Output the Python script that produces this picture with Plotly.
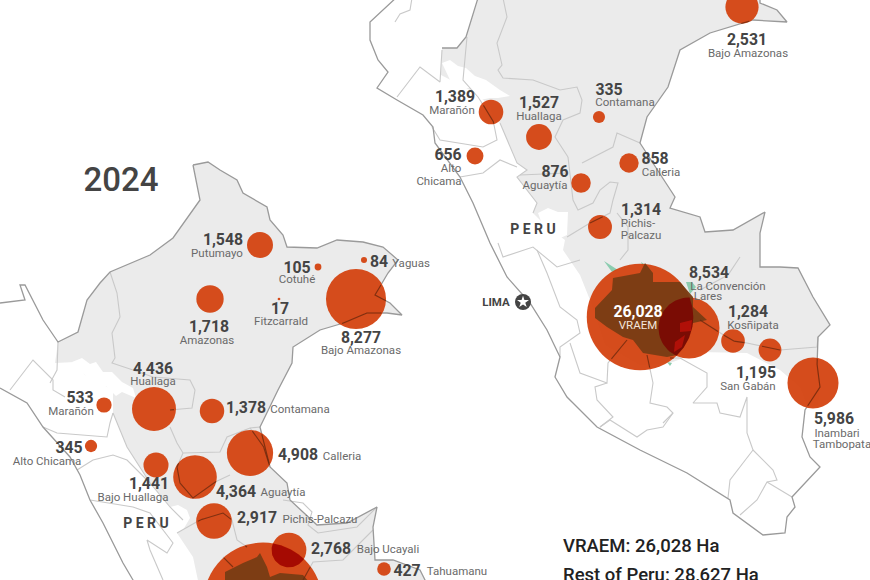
import numpy as np
import plotly.graph_objects as go

# ---------- data ----------
left_names = ["Putumayo","Cotuhé","Yaguas","Amazonas","Fitzcarrald","Bajo Amazonas","Huallaga","Marañón","Contamana","Alto Chicama","Calleria","Bajo Huallaga","Aguaytía","Pichis-Palcazu","Bajo Ucayali","Tahuamanu","VRAEM"]
left_values = [1548,105,84,1718,17,8277,4436,533,1378,345,4908,1441,4364,2917,2768,427,32400]
left_x = [260,318,364,210,279,356,154,104,212,91,250,156,195,214,289,384,263]
left_y = [245,267,260,299,299,299,409,405,411,446,453,465,477,521,550,569,602]

right_names = ["Bajo Amazonas","Marañón","Huallaga","Contamana","Alto Chicama","Calleria","Aguaytía","Pichis-Palcazu","VRAEM","La Convención Lares","Kosñipata","San Gabán","Inambari Tambopata"]
right_values = [2531,1389,1527,335,656,858,876,1314,26028,8534,1284,1195,5986]
right_x = [742,491,539,599,475,629,581,600,640,689,733,770,813]
right_y = [7,112,137,117,156,163,183,227,317,328,341,350,383]

num_text = ["1,548","105","84","1,718","17","8,277","4,436","533","1,378","345","4,908","1,441","4,364","2,917","2,768","427",
            "2,531","1,389","1,527","335","656","858","876","1,314","8,534","1,284","1,195","5,986"]
num_x = [223,297,379,209,280,361,153,80,246,69,298,149,236,257,331,407,
         747,455,539,609,448,655,555,641,709,748,756,834]
num_y = [241,269,263,328,310,339,370,399,409,449,456,485,493,519,550,572,
         41,98,104,91,156,160,173,211,274,313,374,420]

name_text = ["Putumayo","Cotuhé","Yaguas","Amazonas","Fitzcarrald","Bajo Amazonas","Huallaga","Marañón","Contamana","Alto Chicama","Calleria","Bajo Huallaga","Aguaytía","Pichis-Palcazu","Bajo Ucayali","Tahuamanu",
             "Bajo Amazonas","Marañón","Huallaga","Contamana","Alto","Chicama","Calleria","Aguaytía","Pichis-","Palcazu","La Convención","Lares","Kosñipata","San Gabán","Inambari","Tambopata"]
name_x = [217,297,411,207,281,361,153,71,300,47,342,133,283,320,388,457,
          748,452,539,625,451,439,661,545,638,641,728,708,753,748,837,842]
name_y = [254,280,264,341,322,351,382,412,410,462,457,498,493,520,550,572,
          54,111,117,103,169,182,173,186,224,236,287,297,326,387,434,445]

left_land = [(193,165),(208,162),(220,170),(237,180),(243,193),(267,207),(270,220),(283,235),(287,247),(317,248),(337,240),(363,242),(383,247),(398,260),(388,273),(375,295),(390,303),(402,315),(387,313),(367,313),(347,322),(320,330),(293,347),(292,363),(278,390),(267,413),(260,427),(270,467),(287,483),(290,500),(317,525),(347,523),(377,507),(373,527),(375,560),(393,560),(420,570),(430,590),
             (200,590),(193,557),(177,533),(183,520),(170,507),(150,483),(127,447),(113,413),(113,390),(85,375),(75,362),(55,363),(58,342),(78,332),(87,300),(100,283),(110,272),(150,255),(173,238),(200,200)]
right_land = [(478,0),(466,37),(457,48),(442,48),(441,75),(470,90),(490,105),(493,120),(500,123),(517,163),(527,170),(517,177),(537,203),(533,213),(545,225),(565,240),(563,250),(580,275),(590,300),(605,345),(640,365),(670,363),(700,352),(747,353),(780,370),(800,387),(808,408),(818,405),(820,387),(817,367),(818,337),(830,325),(813,297),(798,268),(780,267),(760,267),(760,233),(765,212),(733,230),(705,232),(700,217),(670,208),(675,197),(662,177),(640,143),(647,117),(668,87),(680,50),(710,33),(753,20),(787,22),(777,10),(760,3),(760,0)]
andes_patches = [
    [(72,362),(82,358),(90,364),(96,362),(103,372),(112,372),(122,382),(133,388),(136,398),(122,392),(116,396),(106,386),(96,386),(86,376)],
    [(170,507),(178,505),(187,510),(190,518),(183,530),(177,533)],
    [(442,63),(450,60),(458,66),(466,68),(475,76),(486,80),(500,90),(510,96),(498,98),(490,98),(480,100),(470,88),(458,88),(450,80)],
    [(538,213),(548,208),(558,212),(568,212),(567,235),(556,240),(550,247)],
]
border_lines = [
    # left map
    [(193,165),(208,162),(220,170),(237,180),(243,193),(267,207),(270,220),(283,235),(287,247),(317,248),(337,240),(363,242),(383,247),(398,260),(388,273),(375,295),(390,303),(402,315),(387,313),(367,313),(347,322),(320,330),(293,347),(292,363),(278,390),(267,413),(260,427),(270,467),(287,483),(290,500),(317,525),(347,523),(377,507),(373,527),(375,560),(393,560),(420,570),(430,590)],
    [(193,165),(200,200),(173,238),(150,255),(110,272),(100,283),(87,300),(78,332),(58,342),(43,320),(25,285),(20,285),(25,300),(0,303)],
    [(0,388),(27,403),(43,427),(70,457),(80,475),(90,500),(103,523),(123,563),(133,580),(138,590)],
    # right map
    [(398,-4),(370,22),(370,40),(378,60),(388,72),(377,88),(397,100),(423,115),(433,127),(435,143),(460,177),(473,203),(490,243),(507,277),(530,303),(547,330),(560,357),(555,377),(567,397),(597,427),(640,450),(687,473),(730,500),(733,513),(763,535),(785,533),(787,517),(795,507),(792,497),(820,467),(810,457),(802,437),(805,410),(820,387),(817,367),(818,337),(830,325),(813,297),(798,268),(780,267),(760,267),(760,233),(765,212),(733,230),(705,232),(700,217),(670,208),(675,197),(662,177),(640,143),(647,117),(668,87),(680,50),(710,33),(753,20),(787,22),(777,10),(760,3),(760,-2)],
    [(478,-2),(466,37),(457,48),(442,48)],
]
inner_lines = [
    [(110,272),(117,293),(120,317),(112,333),(115,358),(112,363),(133,370),(153,377),(190,380),(195,390),(192,408),(170,410)],
    [(170,427),(177,443),(183,453),(220,452),(227,437),(250,428),(260,427)],
    [(250,428),(263,445),(270,467)],
    [(183,453),(177,467),(180,483),(193,498),(213,483),(230,475)],
    [(177,533),(200,520),(223,513),(232,520),(237,540),(247,547)],
    [(283,500),(303,503),(312,512),(308,525),(318,533),(357,527),(377,507)],
    [(373,530),(343,560),(313,562),(303,580)],
    [(223,557),(233,567)],
    [(10,390),(33,360),(53,380),(53,390),(65,397)],
    [(43,427),(57,433),(107,437),(110,423),(113,413)],
    [(77,470),(93,460),(113,455),(127,460),(150,483)],
    [(58,342),(57,370),(50,383)],
    [(90,500),(110,503),(133,507),(150,513),(173,543),(167,553),(147,540),(150,550),(163,580)],
    [(113,413),(127,447),(150,483),(170,507),(183,520)],
    [(412,-2),(410,10),(400,14),(395,22)],
    [(503,-2),(507,17),(497,43),(502,65),(498,70),(503,78),(533,80),(560,90),(577,87),(582,100),(580,113),(563,120),(555,137),(563,150),(568,157)],
    [(568,157),(573,200),(578,210),(593,203),(600,190),(610,182),(618,183),(613,200),(610,213),(590,223),(567,237)],
    [(520,175),(567,173)],
    [(582,163),(613,147),(617,133),(640,143)],
    [(617,213),(628,227),(628,250),(620,260)],
    [(397,97),(420,67),(440,82),(442,50)],
    [(467,37),(463,80),(478,97),(493,120),(497,140),(483,147),(440,140),(432,127)],
    [(500,123),(517,163),(527,170),(517,177),(537,203),(533,213)],
    [(460,177),(483,173),(500,160),(517,167)],
    [(498,243),(503,257),(533,247),(557,267),(580,260)],
    [(537,250),(547,273),(560,307),(577,320),(580,333),(560,347),(560,357)],
    [(570,343),(580,373),(607,383),(608,363),(627,340)],
    [(607,383),(595,387),(597,400),(613,417),(600,427)],
    [(647,355),(653,383),(650,403),(667,407),(673,413),(663,423)],
    [(600,427),(610,420),(637,437),(647,430),(663,427),(673,413)],
    [(670,358),(680,358),(707,373),(707,387),(693,403),(717,403),(720,413),(740,417),(747,397),(747,433),(753,450),(740,467),(730,480),(728,498)],
    [(753,450),(773,470),(777,480),(767,482),(757,500),(740,515)],
    [(767,482),(792,497)],
    [(747,343),(780,350),(817,347),(818,337)],
    [(700,320),(733,341),(747,343)],
    [(740,257),(728,275),(700,290)],
]
vraem_right = [(595,308),(612,290),(613,278),(640,273),(645,263),(653,273),(653,282),(680,282),(693,297),(693,307),(707,320),(693,323),(677,355),(667,357),(643,353),(633,340),(623,337),(607,327),(595,318)]
vraem_left = [(225,590),(225,572),(243,563),(257,557),(260,553),(267,567),(270,577),(280,573),(303,575),(316,590)]
overlap_spots = [[(680,323),(692,320),(691,331),(680,332)],[(675,342),(685,335),(682,347),(674,352)]]
teal_patches = [[(604,261),(618,270),(612,272)],[(686,282),(692,282),(696,287),(690,294)],[(641,262),(650,268),(644,270)],[(667,362),(672,363),(670,366)]]

total_text = ["VRAEM: 26,028 Ha","Rest of Peru: 28,627 Ha"]
total_x = [563,563]
total_y = [547,576]

# ---------- styles ----------
FONT = "Roboto"
RED = "rgba(210,62,10,0.92)"
LAND = "#ebebeb"
SCALE = 0.66
PAGE_H = 680  # taller than the window, so bubbles centred below the fold still draw


def xy(points):
    return [p[0] for p in points], [p[1] for p in points]


def poly(points, color, name):
    x, y = xy(list(points) + [points[0]])
    return go.Scatter(x=x, y=y, mode="lines", fill="toself", fillcolor=color,
                      line=dict(width=0, color=color), hoverinfo="skip", name=name)


def path(lines, color, width, name):
    xs, ys = [], []
    for ln in lines:
        x, y = xy(ln)
        xs += x + [None]
        ys += y + [None]
    return go.Scatter(x=xs, y=ys, mode="lines", line=dict(color=color, width=width),
                      hoverinfo="skip", name=name)


def lens(x0, y0, r0, x1, y1, r1):
    """Outline of the overlap of two circles, from the bubbles' own values."""
    d = np.hypot(x1 - x0, y1 - y0)
    base = np.arctan2(y1 - y0, x1 - x0)
    a0 = np.arccos((d * d + r0 * r0 - r1 * r1) / (2 * d * r0))
    a1 = np.arccos((d * d + r1 * r1 - r0 * r0) / (2 * d * r1))
    t0 = np.linspace(base - a0, base + a0, 40)
    t1 = np.linspace(base + np.pi - a1, base + np.pi + a1, 40)
    return list(zip(x0 + r0 * np.cos(t0), y0 + r0 * np.sin(t0))) + \
        list(zip(x1 + r1 * np.cos(t1), y1 + r1 * np.sin(t1)))


def radius(v):
    return SCALE * np.sqrt(v) / 2


def lines_in_circles(lines, cx, cy, r):
    xs, ys = [], []
    for ln in lines:
        for (a, b), (c, d) in zip(ln[:-1], ln[1:]):
            for t in np.linspace(0, 1, 12):
                px, py = a + (c - a) * t, b + (d - b) * t
                if np.any(np.hypot(cx - px, cy - py) < r):
                    xs.append(px); ys.append(py)
                else:
                    xs.append(None); ys.append(None)
        xs.append(None); ys.append(None)
    return xs, ys


fig = go.Figure()
fig.add_trace(poly(left_land, LAND, "land"))
fig.add_trace(poly(right_land, LAND, "land"))
for p in andes_patches:
    fig.add_trace(poly(p, "#ffffff", "andes"))
for p in teal_patches:
    fig.add_trace(poly(p, "#8ccdb0", "coca"))
fig.add_trace(path(inner_lines, "#c9c9c9", 1.1, "inner"))
fig.add_trace(path(border_lines, "#9a9a9a", 1.3, "border"))

all_x = np.array(left_x + right_x, float)
all_y = np.array(left_y + right_y, float)
all_v = np.array(left_values + right_values, float)
fig.add_trace(go.Scatter(x=all_x, y=all_y, mode="markers", hoverinfo="skip", name="bubbles",
                         marker=dict(size=SCALE * np.sqrt(all_v), color=RED, opacity=1, line=dict(width=0))))

fig.add_trace(poly(vraem_right, "rgba(120,60,20,0.95)", "vraem"))
fig.add_trace(poly(vraem_left, "rgba(120,60,20,0.95)", "vraem"))

i_v, i_c = right_names.index("VRAEM"), right_names.index("La Convención Lares")
fig.add_trace(poly(lens(right_x[i_v], right_y[i_v], radius(right_values[i_v]),
                        right_x[i_c], right_y[i_c], radius(right_values[i_c])), "#7a0c04", "overlap"))
i_v, i_c = left_names.index("VRAEM"), left_names.index("Bajo Ucayali")
fig.add_trace(poly(lens(left_x[i_v], left_y[i_v], radius(left_values[i_v]),
                        left_x[i_c], left_y[i_c], radius(left_values[i_c])), "#a50a02", "overlap"))
for p in overlap_spots:
    fig.add_trace(poly(p, "#b01008", "overlap spot"))

ox, oy = lines_in_circles(border_lines + inner_lines, all_x, all_y, radius(all_v))
fig.add_trace(go.Scatter(x=ox, y=oy, mode="lines", line=dict(color="rgba(100,40,15,0.75)", width=1.1),
                         hoverinfo="skip", name="lines over bubbles"))

# Lima marker
fig.add_trace(go.Scatter(x=[523], y=[302], mode="markers", hoverinfo="skip", name="Lima",
                         marker=dict(size=16, color="#444444")))
fig.add_trace(go.Scatter(x=[523], y=[302], mode="markers", hoverinfo="skip", name="Lima",
                         marker=dict(size=9, color="#ffffff", symbol="star")))


def text(x, y, t, size, color, weight="normal", pos="middle center"):
    fig.add_trace(go.Scatter(x=x, y=y, text=t, mode="text", textposition=pos, hoverinfo="skip", cliponaxis=False,
                             textfont=dict(family=FONT, size=size, color=color, weight=weight)))


text(name_x, name_y, name_text, 11.5, "#6a6a6a")
text(num_x, num_y, num_text, 15.8, "#444444", "bold")
text([638], [313], ["26,028"], 15.8, "#ffffff", "bold")
text([638], [326], ["VRAEM"], 11.5, "#f4e4da")
text([121], [183], ["2024"], 33, "#444444", 500)
text([146, 533], [524, 230], ["P E R U", "P E R U"], 14, "#444444", "bold")
text([496], [303], ["LIMA"], 11.5, "#444444", "bold")
text(total_x, total_y, total_text, 18.5, "#222222", 500, "middle right")

fig.update_layout(width=870, height=PAGE_H, margin=dict(l=0, r=0, t=0, b=0), showlegend=False,
                  paper_bgcolor="#ffffff", plot_bgcolor="#ffffff",
                  xaxis=dict(range=[0, 870], visible=False, fixedrange=True),
                  yaxis=dict(range=[PAGE_H, 0], visible=False, fixedrange=True))
fig.write_html("out.html", config={"displayModeBar": False},
               post_script="document.body.style.margin='0';document.body.style.overflow='hidden';")
